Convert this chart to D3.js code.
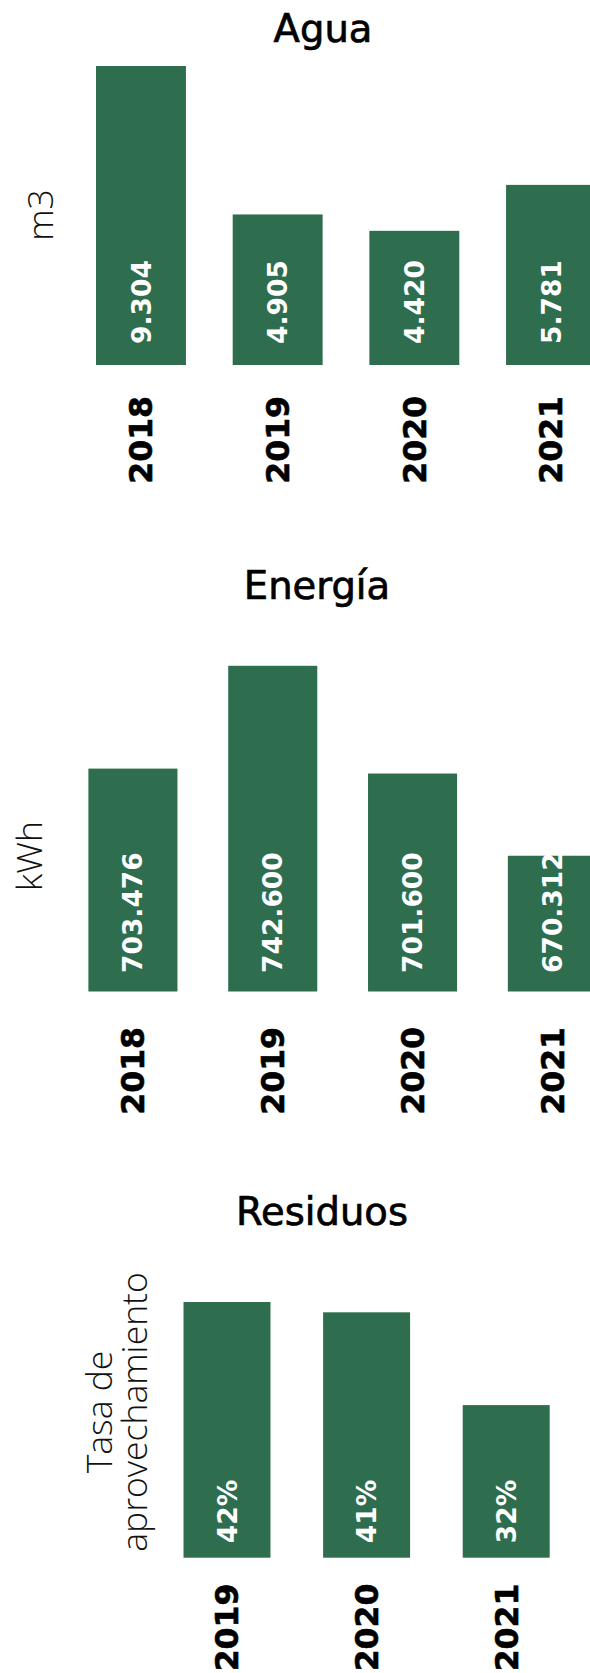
<!DOCTYPE html>
<html>
<head>
<meta charset="utf-8">
<script src="https://cdn.jsdelivr.net/npm/d3@7"></script>
<style>
  html, body { margin: 0; padding: 0; background: #ffffff; }
  svg { display: block; }
</style>
</head>
<body>
<div id="chart"></div>
<script>
// ---- Data ----
const aguaYears = ["2018", "2019", "2020", "2021"];
const aguaValues = [9304, 4905, 4420, 5781];

const energiaYears = ["2018", "2019", "2020", "2021"];
const energiaValues = [703476, 742600, 701600, 670312];

const residuosYears = ["2019", "2020", "2021"];
const residuosValues = [42, 41, 32];

const panelTitles = ["Agua", "Energía", "Residuos"];
const panelUnits = [["m3"], ["kWh"], ["Tasa de", "aprovechamiento"]];

// ---- Setup ----
const W = 590, H = 1673;
const BAR = "#2e6e4f";
const locale = d3.formatLocale({ decimal: ",", thousands: ".", grouping: [3], currency: ["", ""] });
const fmtThousands = locale.format(",");
const fmtPct = d => locale.format("d")(d) + "%";

const svg = d3.select("#chart").append("svg")
  .attr("width", W).attr("height", H)
  .attr("viewBox", `0 0 ${W} ${H}`);
svg.append("rect").attr("width", W).attr("height", H).attr("fill", "#fff");

const panels = [
  {
    title: panelTitles[0], titleY: 42, titleX: 323,
    units: panelUnits[0], unitX: 53, unitY: 215,
    years: aguaYears, values: aguaValues, fmt: fmtThousands,
    xRange: [96, 596], padInner: 0.342,
    yDomain: [444, 9304], yRange: [365, 66],
    yearGap: 31, valueGap: 21
  },
  {
    title: panelTitles[1], titleY: 599, titleX: 317,
    units: panelUnits[1], unitX: 42, unitY: 856,
    years: energiaYears, values: energiaValues, fmt: fmtThousands,
    xRange: [88.4, 596.9], padInner: 0.363,
    yDomain: [618650, 742600], yRange: [991.5, 665.8],
    yearGap: 35.5, valueGap: 18.5
  },
  {
    title: panelTitles[2], titleY: 1225, titleX: 322,
    units: panelUnits[2], unitX: 112, unitY: 1412,
    years: residuosYears, values: residuosValues, fmt: fmtPct,
    xRange: [183.5, 549.7], padInner: 0.377,
    yDomain: [17.2, 42], yRange: [1557.7, 1302],
    yearGap: 26, valueGap: 14.5
  }
];

panels.forEach(p => {
  const g = svg.append("g");
  const x = d3.scaleBand().domain(p.years).range(p.xRange)
    .paddingInner(p.padInner).paddingOuter(0);
  const y = d3.scaleLinear().domain(p.yDomain).range(p.yRange);
  const base = p.yRange[0];
  const data = p.years.map((yr, i) => ({ yr, v: p.values[i] }));

  // title
  g.append("text")
    .attr("x", p.titleX).attr("y", p.titleY)
    .attr("text-anchor", "middle")
    .style("font-family", "'DejaVu Sans', sans-serif")
    .style("font-size", "38.5px")
    .style("fill", "#000")
    .style("stroke", "#000")
    .style("stroke-width", "0.7px")
    .text(p.title);

  // unit label (rotated)
  const ut = g.append("text")
    .attr("transform", `translate(${p.unitX},${p.unitY}) rotate(-90)`)
    .attr("text-anchor", "middle")
    .style("font-family", "'Open Sans', sans-serif")
    .style("font-weight", 350)
    .style("font-size", "35.5px")
    .style("fill", "#111");
  p.units.forEach((line, i) => {
    ut.append("tspan").attr("x", 0).attr("y", i * 35).text(line);
  });

  // bars
  g.selectAll("rect.bar").data(data).join("rect")
    .attr("class", "bar")
    .attr("x", d => x(d.yr))
    .attr("width", x.bandwidth())
    .attr("y", d => y(d.v))
    .attr("height", d => base - y(d.v))
    .attr("fill", BAR);

  // value labels inside bars
  g.selectAll("text.val").data(data).join("text")
    .attr("class", "val")
    .attr("transform", d => `translate(${x(d.yr) + x.bandwidth() / 2},${base - p.valueGap}) rotate(-90)`)
    .attr("dy", "0.36em")
    .attr("text-anchor", "start")
    .style("font-family", "'DejaVu Sans', sans-serif")
    .style("font-weight", "bold")
    .style("font-size", "26.5px")
    .style("fill", "#fff")
    .text(d => p.fmt(d.v));

  // year labels (category axis)
  g.selectAll("text.yr").data(data).join("text")
    .attr("class", "yr")
    .attr("transform", d => `translate(${x(d.yr) + x.bandwidth() / 2},${base + p.yearGap}) rotate(-90)`)
    .attr("dy", "0.36em")
    .attr("text-anchor", "end")
    .style("font-family", "'DejaVu Sans', sans-serif")
    .style("font-weight", "bold")
    .style("font-size", "31.5px")
    .style("fill", "#000")
    .style("stroke", "#000")
    .style("stroke-width", "0.6px")
    .text(d => d.yr);
});
</script>
</body>
</html>
